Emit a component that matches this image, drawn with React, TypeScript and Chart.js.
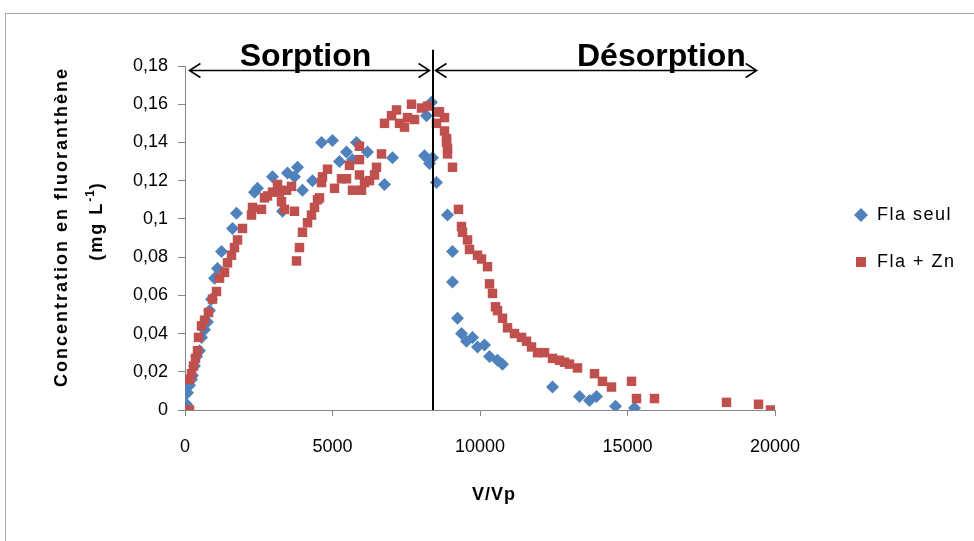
import React, { useEffect, useRef } from "react";
import { Chart, registerables } from "chart.js";

Chart.register(...registerables);

// ---- data ----
const seriesNames = ["Fla seul", "Fla + Zn"];
const phaseLabels = ["Sorption", "Désorption"];
const phaseCenters = [4085, 16150];
const phaseBoundary = 8390;
const sorptionArrow = [150, 8290];
const desorptionArrow = [8490, 19380];
const xTitle = "V/Vp";
const yTitleLine1 = "Concentration en fluoranthène";
const yTitleUnit = ["(mg L", "-1", ")"];

const flaSeulX = [17, 51, 85, 153, 220, 254, 322, 390, 492, 559, 661, 763, 831, 898, 1000, 1102, 1237, 1610, 1746, 2356, 2458, 2966, 3305, 3475, 3712, 3814, 3983, 4322, 4627, 5000, 5237, 5475, 5678, 5814, 6187, 6763, 7034, 8119, 8187, 8288, 8390, 8356, 8526, 8899, 9068, 9068, 9237, 9373, 9543, 9746, 9916, 10153, 10323, 10594, 10763, 12458, 13373, 13712, 13949, 14593, 15237];
const flaSeulY = [0, 0.003, 0.009, 0.013, 0.016, 0.018, 0.023, 0.028, 0.031, 0.038, 0.042, 0.046, 0.052, 0.058, 0.069, 0.074, 0.083, 0.095, 0.103, 0.114, 0.116, 0.122, 0.104, 0.124, 0.122, 0.127, 0.115, 0.120, 0.140, 0.141, 0.130, 0.135, 0.131, 0.140, 0.135, 0.118, 0.132, 0.133, 0.154, 0.129, 0.132, 0.161, 0.119, 0.102, 0.083, 0.067, 0.048, 0.040, 0.036, 0.038, 0.033, 0.034, 0.028, 0.026, 0.024, 0.012, 0.007, 0.005, 0.007, 0.002, 0.001];

const flaZnX = [51, 153, 153, 220, 288, 356, 424, 458, 559, 661, 797, 932, 1068, 1170, 1339, 1441, 1576, 1678, 1780, 1949, 2254, 2288, 2593, 2695, 2797, 2966, 3136, 3204, 3271, 3373, 3441, 3610, 3712, 3780, 3881, 3983, 4153, 4288, 4390, 4492, 4559, 4627, 4661, 4831, 5068, 5305, 5475, 5576, 5678, 5915, 5915, 5915, 5983, 6085, 6254, 6424, 6492, 6661, 6763, 7000, 7170, 7271, 7441, 7543, 7678, 7780, 8017, 8220, 8526, 8560, 8627, 8797, 8797, 8865, 8865, 8899, 8899, 9068, 9271, 9373, 9407, 9577, 9644, 9916, 10051, 10255, 10323, 10424, 10526, 10594, 10763, 10933, 11170, 11407, 11577, 11746, 11950, 12187, 12458, 12695, 12865, 13034, 13305, 13881, 14153, 14458, 15136, 15305, 15915, 18356, 19441, 19848];
const flaZnY = [0, 0, 0.016, 0.019, 0.023, 0.027, 0.031, 0.038, 0.044, 0.047, 0.051, 0.058, 0.062, 0.069, 0.072, 0.077, 0.081, 0.085, 0.089, 0.095, 0.102, 0.106, 0.105, 0.111, 0.112, 0.114, 0.118, 0.114, 0.109, 0.105, 0.115, 0.117, 0.104, 0.078, 0.085, 0.093, 0.098, 0.102, 0.106, 0.110, 0.111, 0.119, 0.122, 0.126, 0.116, 0.121, 0.121, 0.128, 0.115, 0.138, 0.131, 0.123, 0.115, 0.119, 0.120, 0.123, 0.127, 0.134, 0.150, 0.154, 0.157, 0.150, 0.148, 0.153, 0.160, 0.152, 0.158, 0.159, 0.150, 0.156, 0.156, 0.153, 0.146, 0.142, 0.140, 0.137, 0.134, 0.127, 0.105, 0.096, 0.093, 0.089, 0.084, 0.081, 0.079, 0.075, 0.066, 0.061, 0.054, 0.052, 0.048, 0.043, 0.040, 0.038, 0.036, 0.033, 0.030, 0.030, 0.027, 0.026, 0.025, 0.024, 0.022, 0.019, 0.015, 0.012, 0.015, 0.006, 0.006, 0.004, 0.003, 0];

const BLUE = "#4F81BD";
const RED = "#C0504D";
const AXIS = "#868686";
const FONT = "'Liberation Sans', Arial, sans-serif";

const fmtY = (v: number) => String(Math.round(v * 100) / 100).replace(".", ",");

function drawArrow(ctx: CanvasRenderingContext2D, x1: number, x2: number, y: number) {
  const h = 11, v = 7;
  ctx.beginPath();
  ctx.moveTo(x1, y);
  ctx.lineTo(x2, y);
  ctx.moveTo(x1 + h, y - v);
  ctx.lineTo(x1, y);
  ctx.lineTo(x1 + h, y + v);
  ctx.moveTo(x2 - h, y - v);
  ctx.lineTo(x2, y);
  ctx.lineTo(x2 - h, y + v);
  ctx.stroke();
}

const decorPlugin = {
  id: "decor",
  beforeDraw(chart: any) {
    const ctx = chart.ctx as CanvasRenderingContext2D;
    ctx.save();
    ctx.fillStyle = "#fff";
    ctx.fillRect(0, 0, chart.width, chart.height);
    ctx.strokeStyle = "#a6a6a6";
    ctx.lineWidth = 1;
    ctx.strokeRect(5.5, 13.5, chart.width + 20, chart.height + 20);
    ctx.restore();
  },
  afterDraw(chart: any) {
    const ctx = chart.ctx as CanvasRenderingContext2D;
    const { x, y } = chart.scales;
    ctx.save();
    // phase boundary
    const bx = Math.round(x.getPixelForValue(phaseBoundary));
    ctx.strokeStyle = "#000";
    ctx.lineWidth = 2;
    ctx.beginPath();
    ctx.moveTo(bx, y.getPixelForValue(0.1885));
    ctx.lineTo(bx, y.getPixelForValue(0));
    ctx.stroke();
    // arrows
    const ay = Math.round(y.getPixelForValue(0.1778)) + 0.5;
    ctx.lineWidth = 1.5;
    drawArrow(ctx, x.getPixelForValue(sorptionArrow[0]), x.getPixelForValue(sorptionArrow[1]), ay);
    drawArrow(ctx, x.getPixelForValue(desorptionArrow[0]), x.getPixelForValue(desorptionArrow[1]), ay);
    // phase labels
    ctx.fillStyle = "#000";
    ctx.font = `bold 32px ${FONT}`;
    ctx.textAlign = "center";
    ctx.textBaseline = "alphabetic";
    phaseLabels.forEach((t, i) => {
      ctx.fillText(t, x.getPixelForValue(phaseCenters[i]), y.getPixelForValue(0.18));
    });

    // x title
    (ctx as any).letterSpacing = "1px";
    ctx.font = `bold 18px ${FONT}`;
    ctx.textBaseline = "middle";
    ctx.fillText(xTitle, 494, 495);

    // y title
    (ctx as any).letterSpacing = "2px";
    ctx.save();
    ctx.translate(62, 227);
    ctx.rotate(-Math.PI / 2);
    ctx.fillText(yTitleLine1, 0, 0);
    ctx.restore();

    ctx.save();
    ctx.translate(97, 221);
    ctx.rotate(-Math.PI / 2);
    ctx.textAlign = "left";
    ctx.font = `bold 18px ${FONT}`;
    const w1 = ctx.measureText(yTitleUnit[0]).width;
    const w3 = ctx.measureText(yTitleUnit[2]).width;
    ctx.font = `bold 12px ${FONT}`;
    (ctx as any).letterSpacing = "1px";
    const w2 = ctx.measureText(yTitleUnit[1]).width;
    const total = w1 + w2 + w3;
    let cx = -total / 2;
    (ctx as any).letterSpacing = "2px";
    ctx.font = `bold 18px ${FONT}`;
    ctx.fillText(yTitleUnit[0], cx, 0);
    cx += w1;
    (ctx as any).letterSpacing = "1px";
    ctx.font = `bold 12px ${FONT}`;
    ctx.fillText(yTitleUnit[1], cx, -6);
    cx += w2;
    (ctx as any).letterSpacing = "2px";
    ctx.font = `bold 18px ${FONT}`;
    ctx.fillText(yTitleUnit[2], cx, 0);
    ctx.restore();

    // legend
    (ctx as any).letterSpacing = "1.5px";
    ctx.font = `18px ${FONT}`;
    ctx.textAlign = "left";
    ctx.textBaseline = "middle";
    const lx = 861;
    const ly = [215, 262];
    ctx.fillStyle = BLUE;
    ctx.beginPath();
    ctx.moveTo(lx - 7, ly[0]);
    ctx.lineTo(lx, ly[0] - 7);
    ctx.lineTo(lx + 7, ly[0]);
    ctx.lineTo(lx, ly[0] + 7);
    ctx.closePath();
    ctx.fill();
    ctx.fillStyle = RED;
    ctx.fillRect(lx - 5, ly[1] - 5, 10, 10);
    ctx.fillStyle = "#000";
    ctx.fillText(seriesNames[0], 877, ly[0]);
    ctx.fillText(seriesNames[1], 877, ly[1]);
    (ctx as any).letterSpacing = "0px";
    ctx.restore();
  },
};

export default function App() {
  const ref = useRef<HTMLCanvasElement>(null);
  useEffect(() => {
    document.body.style.margin = "0";
    const chart = new Chart(ref.current!, {
      type: "scatter",
      data: {
        datasets: [
          {
            label: seriesNames[0],
            data: flaSeulX.map((v, i) => ({ x: v, y: flaSeulY[i] })),
            pointStyle: "rectRot",
            pointRadius: 6.5,
            pointHoverRadius: 6.5,
            backgroundColor: BLUE,
            borderColor: BLUE,
            borderWidth: 0,
            order: 2,
          },
          {
            label: seriesNames[1],
            data: flaZnX.map((v, i) => ({ x: v, y: flaZnY[i] })),
            pointStyle: "rect",
            pointRadius: 6.7,
            pointHoverRadius: 6.7,
            backgroundColor: RED,
            borderColor: RED,
            borderWidth: 0,
            order: 1,
          },
        ],
      },
      options: {
        responsive: false,
        animation: false,
        devicePixelRatio: 1,
        layout: { padding: { top: 66, right: 199, bottom: 0, left: 0 } },
        plugins: {
          legend: { display: false },
          tooltip: { enabled: false },
        },
        scales: {
          x: {
            type: "linear",
            min: 0,
            max: 20000,
            ticks: {
              stepSize: 5000,
              callback: (v: any) => String(v),
              color: "#000",
              font: { family: FONT, size: 18 },
              padding: 20,
              maxRotation: 0,
            },
            grid: { drawOnChartArea: false, drawTicks: true, tickLength: 6, color: AXIS },
            border: { color: AXIS, width: 1 },
            afterFit: (s: any) => {
              s.height = 131;
            },
          },
          y: {
            min: 0,
            max: 0.18,
            ticks: {
              stepSize: 0.02,
              callback: (v: any) => fmtY(Number(v)),
              color: "#000",
              font: { family: FONT, size: 18 },
              padding: 10,
            },
            grid: { drawOnChartArea: false, drawTicks: true, tickLength: 7, color: AXIS },
            border: { color: AXIS, width: 1 },
            afterFit: (s: any) => {
              s.width = 185;
            },
          },
        },
      },
      plugins: [decorPlugin],
    } as any);
    return () => chart.destroy();
  }, []);
  return (
    <div style={{ position: "absolute", left: 0, top: 0, width: 974, height: 541 }}>
      <canvas ref={ref} width={974} height={541} style={{ display: "block" }} />
    </div>
  );
}
